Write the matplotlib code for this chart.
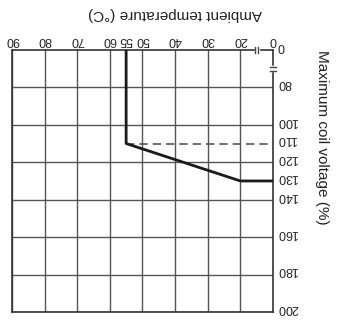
import numpy as np
import matplotlib.pyplot as plt
import matplotlib.transforms as mtransforms

# Derating curve (chart is printed upside down in the reference)
temp = [55, 55, 20, 0]
voltage = [0, 110, 130, 130]
dash_temp = [55, 0]
dash_voltage = [110, 110]

x_ticks = [0, 20, 30, 40, 50, 55, 60, 70, 80, 90]
y_ticks = [0, 80, 100, 110, 120, 130, 140, 160, 180, 200]
x_grid = [20, 30, 40, 50, 60, 70, 80, 90]
y_grid = [80, 100, 120, 140, 160, 180, 200]

plt.rcParams['font.family'] = ['Liberation Sans', 'DejaVu Sans']

# broken axes: 0..20 squeezed on x, 0..80 squeezed on y
def fx(x):
    x = np.asarray(x, dtype=float)
    return np.where(x < 20, 10 + x * 0.5, x)

def fx_inv(x):
    x = np.asarray(x, dtype=float)
    return np.where(x < 20, (x - 10) * 2, x)

def fy(y):
    y = np.asarray(y, dtype=float)
    return np.where(y < 80, 60 + y * 0.25, y)

def fy_inv(y):
    y = np.asarray(y, dtype=float)
    return np.where(y < 80, (y - 60) * 4, y)

fig = plt.figure(figsize=(3.5, 3.22), dpi=100)
ax = fig.add_axes([0.034, 0.031, 0.746, 0.814])
ax.set_xscale('function', functions=(fx, fx_inv))
ax.set_yscale('function', functions=(fy, fy_inv))
ax.set_xlim(90, 0)
ax.set_ylim(200, 0)

grid_c = '#555555'
for g in x_grid:
    ax.axvline(g, color=grid_c, lw=1.0, zorder=1)
for g in y_grid:
    ax.axhline(g, color=grid_c, lw=1.0, zorder=1)

ax.plot(temp, voltage, color='#1a1a1a', lw=2.0, zorder=3)
ax.plot(dash_temp, dash_voltage, color='#555555', lw=1.2, ls=(0, (5, 3)), zorder=2)

for s in ax.spines.values():
    s.set_color('#333333')
    s.set_linewidth(1.2)

# axis break marks ("=" across the squeezed part of each axis)
xb = mtransforms.blended_transform_factory(ax.transData, ax.transAxes)
yb = mtransforms.blended_transform_factory(ax.transAxes, ax.transData)
ax.plot([10.6, 9.4], [1.0, 1.0], color='white', lw=2.5, transform=xb, clip_on=False, zorder=5)
for xv in (9.2, 10.8):
    ax.plot([xv, xv], [0.988, 1.012], color='#444444', lw=1.0, transform=xb,
            clip_on=False, zorder=6)
ax.plot([1.0, 1.0], [36.5, 43.5], color='white', lw=2.5, transform=yb, clip_on=False, zorder=5)
for yv in (35.5, 44.5):
    ax.plot([0.988, 1.012], [yv, yv], color='#444444', lw=1.0, transform=yb,
            clip_on=False, zorder=6)

ax.xaxis.tick_top()
ax.set_xticks(x_ticks)
ax.set_xticklabels([str(v) for v in x_ticks])
ax.minorticks_off()
ax.tick_params(axis='x', length=0, pad=3, labelsize=9, colors='#222222')
for lab in ax.get_xticklabels():
    lab.set_rotation(180)

# y tick labels drawn by hand so the upside-down text sits on its line
ax.set_yticks([])
ytrans = mtransforms.offset_copy(
    mtransforms.blended_transform_factory(ax.transAxes, ax.transData),
    fig=fig, x=3, y=3, units='points')
for v in y_ticks:
    ax.text(1.0, v, str(v), transform=ytrans, rotation=180, ha='left', va='center',
            fontsize=9, color='#222222', clip_on=False)

fig.text(0.50, 0.955, 'Ambient temperature (°C)', rotation=180, ha='center', va='center',
         fontsize=11, color='#222222')
fig.text(0.92, 0.575, 'Maximum coil voltage (%)', rotation=-90, ha='center', va='center',
         fontsize=11, color='#222222')

plt.savefig('out.png', dpi=100)
